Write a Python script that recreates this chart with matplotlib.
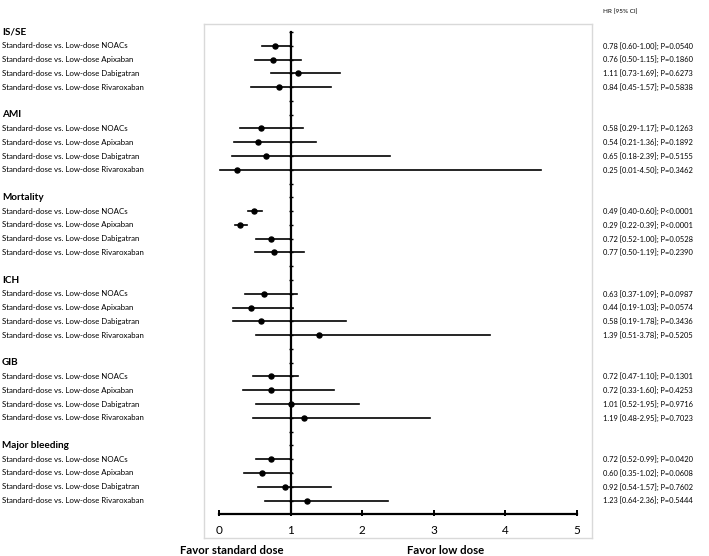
import matplotlib
matplotlib.use("Agg")
import matplotlib.pyplot as plt

plt.rcParams['font.family'] = ['Lato', 'DejaVu Sans']

outcomes = ["IS/SE", "AMI", "Mortality", "ICH", "GIB", "Major bleeding"]
comparisons = ["Standard-dose vs. Low-dose NOACs",
               "Standard-dose vs. Low-dose Apixaban",
               "Standard-dose vs. Low-dose Dabigatran",
               "Standard-dose vs. Low-dose Rivaroxaban"]

hr = [[0.78, 0.76, 1.11, 0.84],
      [0.58, 0.54, 0.65, 0.25],
      [0.49, 0.29, 0.72, 0.77],
      [0.63, 0.44, 0.58, 1.39],
      [0.72, 0.72, 1.01, 1.19],
      [0.72, 0.60, 0.92, 1.23]]
ci_low = [[0.60, 0.50, 0.73, 0.45],
          [0.29, 0.21, 0.18, 0.01],
          [0.40, 0.22, 0.52, 0.50],
          [0.37, 0.19, 0.19, 0.51],
          [0.47, 0.33, 0.52, 0.48],
          [0.52, 0.35, 0.54, 0.64]]
ci_high = [[1.00, 1.15, 1.69, 1.57],
           [1.17, 1.36, 2.39, 4.50],
           [0.60, 0.39, 1.00, 1.19],
           [1.09, 1.03, 1.78, 3.78],
           [1.10, 1.60, 1.95, 2.95],
           [0.99, 1.02, 1.57, 2.36]]
pvals = [["P=0.0540", "P=0.1860", "P=0.6273", "P=0.5838"],
         ["P=0.1263", "P=0.1892", "P=0.5155", "P=0.3462"],
         ["P<0.0001", "P<0.0001", "P=0.0528", "P=0.2390"],
         ["P=0.0987", "P=0.0574", "P=0.3436", "P=0.5205"],
         ["P=0.1301", "P=0.4253", "P=0.9716", "P=0.7023"],
         ["P=0.0420", "P=0.0608", "P=0.7602", "P=0.5444"]]
xticks = [0, 1, 2, 3, 4, 5]

W, H = 709, 556
fig = plt.figure(figsize=(W / 100, H / 100), dpi=100)
ax = fig.add_axes([204 / W, 1 - 538 / H, (592 - 204) / W, (538 - 24) / H])

n_slots = len(outcomes) * 6 - 1  # last slot holds the x axis
ax.set_xlim(-0.2095, 5.2095)
ax.set_ylim(36.72, -0.58)
ax.set_xticks([])
ax.set_yticks([])
for s in ax.spines.values():
    s.set_color("#d9d9d9")
    s.set_linewidth(1.0)

# reference line at HR = 1 with small ticks at every row
ax.plot([1, 1], [0, n_slots], color="black", lw=1.6, zorder=2)
ax.plot([1] * n_slots, list(range(n_slots)), ls="none", marker="_", ms=3.5, mew=1, color="black")

# bottom axis
ax.plot([xticks[0], xticks[-1]], [n_slots, n_slots], color="black", lw=1.6)
ax.plot(xticks, [n_slots - 0.1] * len(xticks), ls="none", marker="|", ms=4, mew=1.4, color="black")

to_fig = lambda y: ax.transData.transform((0, y))[1]

for g, name in enumerate(outcomes):
    base = g * 6
    fig.text(2 / W, to_fig(base) / H, name, fontsize=7.2, fontweight="bold", va="center", ha="left")
    for k, comp in enumerate(comparisons):
        y = base + 1 + k
        ax.plot([ci_low[g][k], ci_high[g][k]], [y, y], color="black", lw=1.2, zorder=3)
        ax.plot(hr[g][k], y, marker="o", ms=3.6, color="black", zorder=4)
        fig.text(2 / W, to_fig(y) / H, comp, fontsize=5.7, va="center", ha="left")
        label = f"{hr[g][k]:.2f} [{ci_low[g][k]:.2f}-{ci_high[g][k]:.2f}]; {pvals[g][k]}"
        fig.text(603 / W, to_fig(y) / H, label, fontsize=5.4, va="center", ha="left")

for t in xticks:
    ax.text(t, n_slots + 1.15, str(t), fontsize=8.5, ha="center", va="center")

fig.text(603 / W, 1 - 12 / H, "HR [95% CI]", fontsize=4.6, va="center", ha="left")
fig.text(232 / W, 1 - 551 / H, "Favor standard dose", fontsize=8.2, fontweight="bold", ha="center", va="center")
fig.text(446 / W, 1 - 551 / H, "Favor low dose", fontsize=8.2, fontweight="bold", ha="center", va="center")

fig.savefig("out.png", dpi=100)
